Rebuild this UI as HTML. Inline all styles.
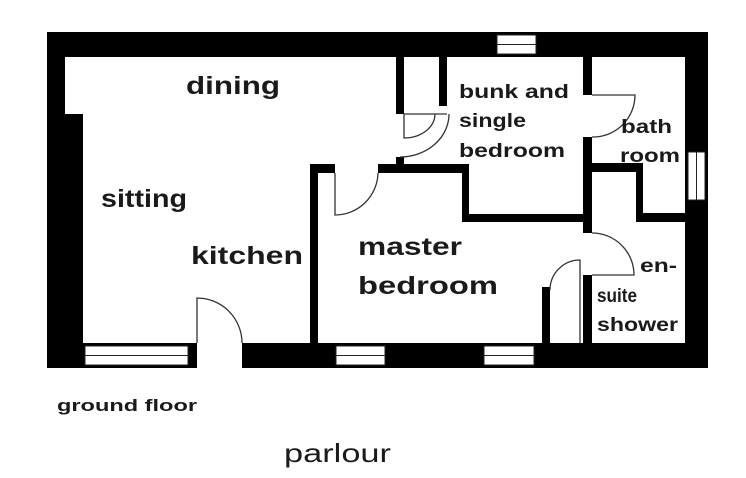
<!DOCTYPE html>
<html><head><style>
html,body{margin:0;padding:0;background:#fff;}
svg{display:block}
text{font-family:"Liberation Sans",sans-serif;fill:#1a1a1a;}
</style></head><body>
<svg width="746" height="478" viewBox="0 0 746 478" xmlns="http://www.w3.org/2000/svg">
<g fill="#000">
<rect x="47" y="32" width="661" height="25"/>
<rect x="47" y="57" width="18" height="60"/>
<rect x="47" y="114" width="36" height="254"/>
<rect x="83" y="343" width="114" height="25"/>
<rect x="242" y="343" width="466" height="25"/>
<rect x="685" y="32" width="23" height="336"/>
<rect x="310" y="164" width="8" height="181"/>
<rect x="310" y="164" width="25" height="9"/>
<rect x="378" y="164" width="90" height="9"/>
<rect x="462" y="164" width="7" height="58"/>
<rect x="462" y="214" width="130" height="8"/>
<rect x="583" y="57" width="9" height="38"/>
<rect x="583" y="137" width="9" height="96"/>
<rect x="583" y="275" width="9" height="70"/>
<rect x="592" y="163" width="51" height="9"/>
<rect x="636" y="163" width="7" height="59"/>
<rect x="636" y="213" width="49" height="9"/>
<rect x="542" y="287" width="8" height="58"/>
<rect x="396" y="57" width="8" height="57"/>
<rect x="439" y="57" width="8" height="49"/>
<rect x="396" y="157" width="8" height="8"/>
</g>
<g fill="#fff" stroke="#222" stroke-width="1">
<rect x="85" y="346" width="103" height="19"/>
<line x1="85" y1="355.5" x2="188" y2="355.5"/>
<rect x="336" y="346" width="49" height="19"/>
<line x1="336" y1="355.5" x2="385" y2="355.5"/>
<rect x="484" y="346" width="50" height="19"/>
<line x1="484" y1="355.5" x2="534" y2="355.5"/>
<rect x="497" y="35" width="39" height="19"/>
<line x1="497" y1="44.5" x2="536" y2="44.5"/>
<rect x="688" y="152" width="17" height="48"/>
<line x1="696.5" y1="152" x2="696.5" y2="200"/>
</g>
<g fill="none" stroke="#333" stroke-width="1.3">
<path d="M197 343 V298 A45 45 0 0 1 242 343"/>
<path d="M335 173 V215 A43 43 0 0 0 378 173"/>
<path d="M592 95 H635 A42 42 0 0 1 592 137"/>
<path d="M592 233 A42 42 0 0 1 634 275 H592"/>
<path d="M580 343 V260 A30 30 0 0 0 550 290"/>
<path d="M404 114 H447 M404 114 V138 A31 24 0 0 0 435 114"/>
<path d="M400 157 A49 43 0 0 0 449 114"/>
</g>
<g font-weight="bold" lengthAdjust="spacingAndGlyphs">
<text x="186" y="94" font-size="25" textLength="94" lengthAdjust="spacingAndGlyphs">dining</text>
<text x="101" y="207" font-size="25" textLength="86" lengthAdjust="spacingAndGlyphs">sitting</text>
<text x="191" y="264" font-size="25" textLength="112" lengthAdjust="spacingAndGlyphs">kitchen</text>
<text x="358" y="255" font-size="25" textLength="104" lengthAdjust="spacingAndGlyphs">master</text>
<text x="358" y="294" font-size="25" textLength="140" lengthAdjust="spacingAndGlyphs">bedroom</text>
<text x="459" y="98" font-size="19" textLength="110" lengthAdjust="spacingAndGlyphs">bunk and</text>
<text x="459" y="127" font-size="19" textLength="67" lengthAdjust="spacingAndGlyphs">single</text>
<text x="459" y="157" font-size="19" textLength="106" lengthAdjust="spacingAndGlyphs">bedroom</text>
<text x="621" y="133" font-size="19" textLength="51" lengthAdjust="spacingAndGlyphs">bath</text>
<text x="620" y="162" font-size="19" textLength="60" lengthAdjust="spacingAndGlyphs">room</text>
<text x="640" y="272" font-size="19" textLength="37" lengthAdjust="spacingAndGlyphs">en-</text>
<text x="597" y="302" font-size="19" textLength="40" lengthAdjust="spacingAndGlyphs">suite</text>
<text x="597" y="331" font-size="19" textLength="81" lengthAdjust="spacingAndGlyphs">shower</text>
<text x="57" y="411" font-size="17" textLength="140" lengthAdjust="spacingAndGlyphs">ground floor</text>
</g>
<text x="284" y="462" font-size="26" fill="#333" textLength="107" lengthAdjust="spacingAndGlyphs">parlour</text>
</svg>
</body></html>
